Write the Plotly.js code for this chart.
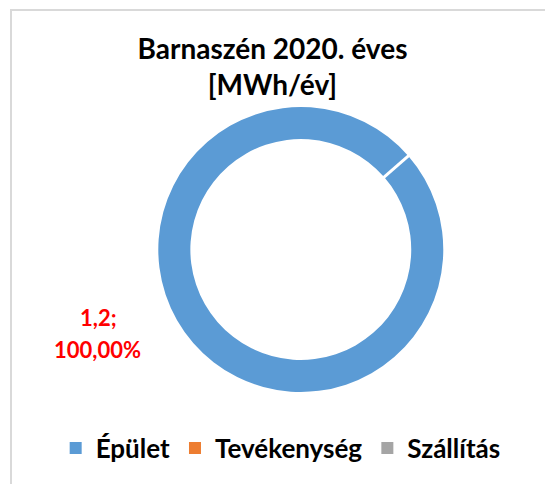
<!DOCTYPE html>
<html>
<head>
<meta charset="utf-8">
<script src="https://cdn.plot.ly/plotly-3.0.1.min.js"></script>
<style>
  html, body { margin: 0; padding: 0; background: #ffffff; }
  #chart { width: 545px; height: 484px; }
</style>
</head>
<body>
<div id="chart"></div>
<script>
// ---- data ----
var categories = ["Épület", "Tevékenység", "Szállítás"];
var values = [1.2, 0, 0];
var colors = ["#5B9BD5", "#ED7D31", "#A5A5A5"];
var titleLines = ["Barnaszén 2020. éves", "[MWh/év]"];

// ---- layout parameters ----
var W = 545, H = 484;
var domX = [0.2904, 0.8134];
var domY = [0.1901, 0.7789];
var holeFrac = 0.775;
var rot = 49;

var total = values.reduce(function (a, b) { return a + b; }, 0);
function huNum(v, d) { return v.toFixed(d).replace('.', ','); }
var labelLine1 = huNum(values[0], 1) + ';';
var labelLine2 = huNum(values[0] / total * 100, 2) + '%';

// slice border (white gap) at the start angle of the full slice
var cx = W * (domX[0] + domX[1]) / 2;
var cyFromBottom = H * (domY[0] + domY[1]) / 2;
var R = Math.min(W * (domX[1] - domX[0]), H * (domY[1] - domY[0])) / 2;
var a = rot * Math.PI / 180;
var rIn = R * holeFrac - 2, rOut = R + 2;
var gapShape = {
  type: 'line', xref: 'paper', yref: 'paper',
  x0: (cx + rIn * Math.sin(a)) / W, y0: (cyFromBottom + rIn * Math.cos(a)) / H,
  x1: (cx + rOut * Math.sin(a)) / W, y1: (cyFromBottom + rOut * Math.cos(a)) / H,
  line: { color: '#ffffff', width: 3 }
};

var trace = {
  type: 'pie',
  labels: categories,
  values: values,
  hole: holeFrac,
  rotation: rot,
  direction: 'clockwise',
  sort: false,
  textinfo: 'none',
  marker: { colors: colors, line: { color: '#ffffff', width: 0 } },
  domain: { x: domX, y: domY },
  hoverinfo: 'label+value+percent'
};

var labelFont = { size: 22, color: '#FF0000', family: 'Lato, sans-serif' };

var layout = {
  width: W, height: H,
  margin: { l: 0, r: 0, t: 0, b: 0 },
  paper_bgcolor: '#ffffff',
  font: { family: 'Lato, sans-serif', color: '#000000' },
  title: {
    text: '<b>' + titleLines.join('<br>') + '</b>',
    font: { size: 28, color: '#000000', family: 'Lato, sans-serif' },
    x: 0.5, xanchor: 'center', xref: 'paper',
    y: 0.878, yanchor: 'top', yref: 'container'
  },
  showlegend: true,
  legend: {
    orientation: 'h',
    x: 0.515, xanchor: 'center',
    y: 0.074, yanchor: 'middle',
    font: { size: 26, color: '#000000', family: 'Lato, sans-serif', weight: 'bold' },
    traceorder: 'normal'
  },
  annotations: [
    { text: '<b>' + labelLine1 + '</b>', xref: 'paper', yref: 'paper',
      x: 98 / W, y: 1 - 317 / H, xanchor: 'center', yanchor: 'middle',
      showarrow: false, font: labelFont },
    { text: '<b>' + labelLine2 + '</b>', xref: 'paper', yref: 'paper',
      x: 97 / W, y: 1 - 349 / H, xanchor: 'center', yanchor: 'middle',
      showarrow: false, font: labelFont }
  ],
  shapes: [
    gapShape,
    { type: 'rect', xref: 'paper', yref: 'paper',
      x0: 11 / W, y0: 1 - 10 / H, x1: 1.05, y1: -0.05,
      line: { color: '#d9d9d9', width: 2 }, fillcolor: 'rgba(0,0,0,0)' }
  ]
};

Plotly.newPlot('chart', [trace], layout, { displayModeBar: false, staticPlot: true });
</script>
</body>
</html>
